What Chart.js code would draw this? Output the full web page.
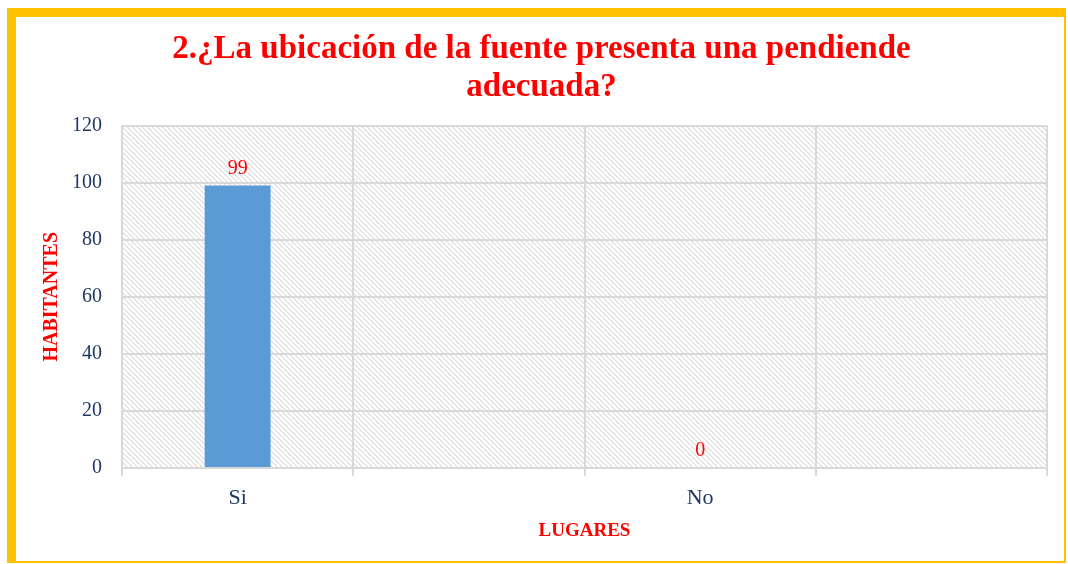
<!DOCTYPE html>
<html>
<head>
<meta charset="utf-8">
<script src="https://cdn.jsdelivr.net/npm/chart.js@4.4.1/dist/chart.umd.min.js"></script>
<style>
  body { margin: 0; background: #fff; }
  #wrap { position: relative; width: 1068px; height: 564px; overflow: hidden; }
  #grafico { position: absolute; left: 0; top: 0; }
  #marco {
    position: absolute; left: 7px; top: 8px; width: 1048px; height: 544px;
    border-left: 9px solid #FFC000; border-top: 9px solid #FFC000;
    border-right: 2px solid #FFC000; border-bottom: 2px solid #FFC000;
    pointer-events: none;
  }
</style>
</head>
<body>
<div id="wrap">
  <canvas id="grafico" width="1068" height="564"></canvas>
  <div id="marco"></div>
</div>
<script>
// datos del grafico
const lugares = ['Si', '', 'No', ''];
const habitantes = [99, null, 0, null];
const ticksY = [0, 20, 40, 60, 80, 100, 120];

const titulo = ['2.¿La ubicación de la fuente presenta una pendiende', 'adecuada?'];
const tituloY = 'HABITANTES';
const tituloX = 'LUGARES';

const ROJO = '#FF0000';
const AZUL_TEXTO = '#1F3864';
const GRIS = '#D9D9D9';

// patron rayado para el fondo del area
function hacerRayado() {
  const c = document.createElement('canvas');
  c.width = 10; c.height = 10;
  const cx = c.getContext('2d');
  const img = cx.createImageData(10, 10);
  for (let y = 0; y < 10; y++) {
    for (let x = 0; x < 10; x++) {
      const i = (y * 10 + x) * 4;
      const d = ((x - y) % 5 + 5) % 5;
      let v = 255;
      if (d == 0) v = 220;
      if (d == 1) v = 238;
      img.data[i] = v; img.data[i + 1] = v; img.data[i + 2] = v; img.data[i + 3] = 255;
    }
  }
  cx.putImageData(img, 0, 0);
  return c;
}

const fondoRayado = {
  id: 'fondoRayado',
  beforeDraw(chart) {
    const a = chart.chartArea;
    const ctx = chart.ctx;
    ctx.save();
    ctx.fillStyle = ctx.createPattern(hacerRayado(), 'repeat');
    ctx.fillRect(a.left, a.top, a.right - a.left, a.bottom - a.top);
    ctx.restore();
  }
};

// etiquetas de valor encima de cada barra
const etiquetasValor = {
  id: 'etiquetasValor',
  afterDatasetsDraw(chart) {
    const ctx = chart.ctx;
    const meta = chart.getDatasetMeta(0);
    ctx.save();
    ctx.fillStyle = ROJO;
    ctx.font = '20px "Liberation Serif"';
    ctx.textAlign = 'center';
    ctx.textBaseline = 'bottom';
    meta.data.forEach((bar, i) => {
      const v = habitantes[i];
      if (v === null || v === undefined) return;
      ctx.fillText(String(v), bar.x, bar.y - 7);
    });
    ctx.restore();
  }
};

const ctx = document.getElementById('grafico').getContext('2d');
new Chart(ctx, {
  type: 'bar',
  data: {
    labels: lugares,
    datasets: [{
      label: tituloY,
      data: habitantes,
      backgroundColor: '#5B9BD5',
      borderWidth: 0,
      barPercentage: 0.57,
      categoryPercentage: 0.5
    }]
  },
  options: {
    responsive: false,
    animation: false,
    layout: { padding: { left: 36, right: 21, top: 0, bottom: 22 } },
    plugins: {
      legend: { display: false },
      tooltip: { enabled: false },
      title: {
        display: true,
        text: titulo,
        color: ROJO,
        font: { family: '"Liberation Serif"', size: 33, weight: 'bold', lineHeight: 1.16 },
        padding: { top: 30, bottom: 19 }
      }
    },
    scales: {
      x: {
        offset: true,
        grid: { offset: true, color: GRIS, lineWidth: 2, tickLength: 8 },
        border: { color: GRIS, width: 2 },
        ticks: { color: AZUL_TEXTO, font: { family: '"Liberation Serif"', size: 22 }, padding: 9 },
        title: {
          display: true, text: tituloX, color: ROJO,
          font: { family: '"Liberation Serif"', size: 19, weight: 'bold' },
          padding: { top: 4, bottom: 0 }
        },
        afterFit(s) { s.height = 74; }
      },
      y: {
        min: 0,
        max: 120,
        afterBuildTicks(s) { s.ticks = ticksY.map(v => ({ value: v })); },
        grid: { color: GRIS, lineWidth: 2, drawTicks: false },
        border: { display: false },
        ticks: { color: AZUL_TEXTO, font: { family: '"Liberation Serif"', size: 20 }, padding: 20 },
        title: {
          display: true, text: tituloY, color: ROJO,
          font: { family: '"Liberation Serif"', size: 20, weight: 'bold' }
        },
        afterFit(s) { s.width = 86; }
      }
    }
  },
  plugins: [fondoRayado, etiquetasValor]
});
</script>
</body>
</html>
